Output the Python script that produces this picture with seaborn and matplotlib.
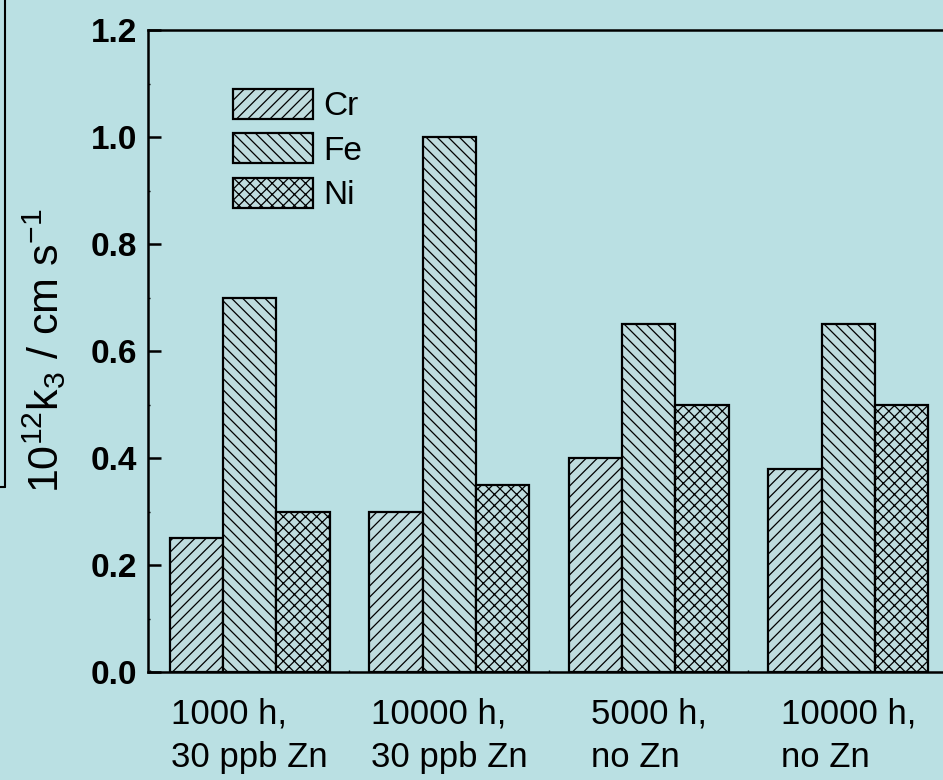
import pandas as pd
import numpy as np
import matplotlib.pyplot as plt
import matplotlib.lines as mlines
from matplotlib.ticker import MultipleLocator
import seaborn as sns

# ---------------------------------------------------
# Data
# ---------------------------------------------------
conditions = ["1000 h,\n30 ppb Zn", "10000 h,\n30 ppb Zn", "5000 h,\nno Zn", "10000 h,\nno Zn"]
metals = ["Cr", "Fe", "Ni"]
cr_values = [0.25, 0.30, 0.40, 0.38]
fe_values = [0.70, 1.00, 0.65, 0.65]
ni_values = [0.30, 0.35, 0.50, 0.50]
hatches = ["///", "\\\\\\", "xxx"]

df = pd.DataFrame({
    "condition": conditions * 3,
    "metal": ["Cr"] * 4 + ["Fe"] * 4 + ["Ni"] * 4,
    "k3": cr_values + fe_values + ni_values,
})

bg = "#bae0e3"

sns.set_style("ticks", {"axes.facecolor": bg, "figure.facecolor": bg,
                        "text.color": "black", "axes.labelcolor": "black",
                        "xtick.color": "black", "ytick.color": "black",
                        "axes.edgecolor": "black"})
plt.rcParams["font.family"] = ["Liberation Sans", "DejaVu Sans"]
plt.rcParams["mathtext.default"] = "regular"
plt.rcParams["hatch.linewidth"] = 0.9

fig = plt.figure(figsize=(9.43, 7.80), dpi=100)
ax = fig.add_axes([148 / 943, 1 - 672 / 780, 800 / 943, 642 / 780])

sns.barplot(
    data=df, x="condition", y="k3", hue="metal",
    order=conditions, hue_order=metals,
    palette=[bg] * 3, edgecolor="black", linewidth=1.6,
    width=0.8, legend=False, ax=ax,
)

# hatch patterns per metal
for cont, h in zip(ax.containers, hatches):
    for bar in cont:
        bar.set_hatch(h)
        bar.set_edgecolor("black")

ax.set_xlim(-0.51, 3.5)
ax.set_ylim(0, 1.2)
ax.yaxis.set_major_locator(MultipleLocator(0.2))
ax.yaxis.set_minor_locator(MultipleLocator(0.1))
ax.xaxis.set_minor_locator(MultipleLocator(0.5))
ax.yaxis.set_major_formatter(plt.FuncFormatter(lambda v, p: f"{v:.1f}"))

for side in ["left", "right", "top", "bottom"]:
    ax.spines[side].set_linewidth(1.8)
    ax.spines[side].set_color("black")

ax.tick_params(which="major", direction="in", length=9, width=1.8, colors="black")
ax.tick_params(which="minor", direction="in", length=1.5, width=1, colors="black")
ax.tick_params(axis="y", labelsize=24, pad=8)
ax.tick_params(axis="x", labelsize=25, pad=18)
for lab in ax.get_yticklabels():
    lab.set_fontweight("bold")
for lab in ax.get_xticklabels():
    lab.set_multialignment("left")
    lab.set_linespacing(1.42)

ax.set_xlabel("")
ax.set_ylabel("10$^{12}$k$_3$ / cm s$^{-1}$", fontsize=31)
ax.yaxis.set_label_coords(-0.1, 0.5)

ax.legend(
    [c[0] for c in ax.containers], metals,
    loc="upper left", bbox_to_anchor=(0.106, 0.908),
    frameon=False, fontsize=24, handlelength=2.4, handleheight=1.0,
    handletextpad=0.3, labelspacing=0.33, borderpad=0, borderaxespad=0,
)

# leftover frame edge at the left border of the picture
fig.add_artist(mlines.Line2D([4.5 / 943, 4.5 / 943], [1, 1 - 487 / 780], color="black", lw=1.5))
fig.add_artist(mlines.Line2D([0, 5 / 943], [1 - 487 / 780, 1 - 487 / 780], color="black", lw=1.5))

plt.savefig("out.png", dpi=100, facecolor=bg)
